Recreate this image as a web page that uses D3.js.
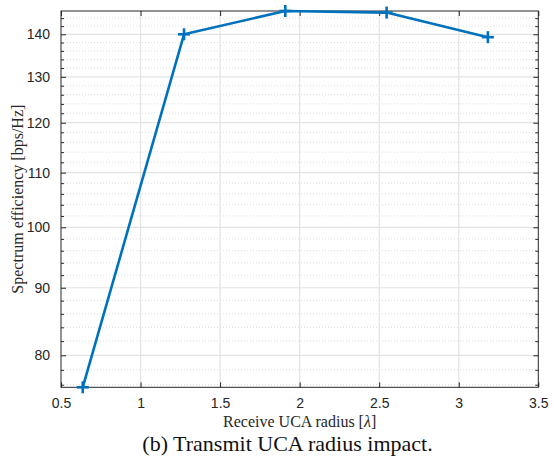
<!DOCTYPE html>
<html>
<head>
<meta charset="utf-8">
<script src="https://cdn.jsdelivr.net/npm/d3@7"></script>
<style>
  html, body { margin: 0; padding: 0; background: #fff; }
  svg { display: block; }
</style>
</head>
<body>
<svg id="chart" width="554" height="457"></svg>
<script>
// ---- data ----
const radius = [0.6366, 1.2732, 1.9099, 2.5465, 3.1831];
const efficiency = [75.66, 140.0, 145.8, 145.4, 139.3];
const xTicks = [0.5, 1, 1.5, 2, 2.5, 3, 3.5];
const xTickLabels = ["0.5", "1", "1.5", "2", "2.5", "3", "3.5"];
const yTicks = [80, 90, 100, 110, 120, 130, 140];
const yTickLabels = ["80", "90", "100", "110", "120", "130", "140"];
const yMinorTicks = [76, 78, 82, 84, 86, 88, 92, 94, 96, 98, 102, 104, 106, 108, 112, 114, 116, 118, 122, 124, 126, 128, 132, 134, 136, 138, 142, 144];

// ---- layout ----
const L = 61, R = 538.3, T = 11, B = 387.3;
const axisColor = "#262626";
const lineColor = "#0072BD";

const svg = d3.select("#chart");

const x = d3.scaleLinear().domain([0.5, 3.5]).range([L, R]);
const y = d3.scaleLog().domain(d3.extent(efficiency)).range([B, T]);

// grid
const grid = svg.append("g");
grid.selectAll(".minor").data(yMinorTicks).join("line")
  .attr("x1", L).attr("x2", R)
  .attr("y1", d => y(d)).attr("y2", d => y(d))
  .attr("stroke", "#d4d4d4").attr("stroke-width", 0.8)
  .attr("stroke-dasharray", "1,2");
grid.selectAll(".ymaj").data(yTicks).join("line")
  .attr("x1", L).attr("x2", R)
  .attr("y1", d => y(d)).attr("y2", d => y(d))
  .attr("stroke", "#e3e3e3").attr("stroke-width", 1.2);
grid.selectAll(".xmaj").data(xTicks.slice(1, -1)).join("line")
  .attr("x1", d => x(d)).attr("x2", d => x(d))
  .attr("y1", T).attr("y2", B)
  .attr("stroke", "#e3e3e3").attr("stroke-width", 1.2);

// axes (ticks inward)
const fmtX = d => xTickLabels[xTicks.indexOf(d)];
const fmtY = d => { const i = yTicks.indexOf(d); return i >= 0 ? yTickLabels[i] : ""; };

function styleAxis(g) {
  g.select(".domain").remove();
  g.selectAll("line").attr("stroke", axisColor).attr("stroke-width", 1);
  g.selectAll("text").attr("fill", axisColor)
    .style("font-family", "'Liberation Sans', Arial, sans-serif")
    .style("font-size", "14px");
}

const xAxisB = svg.append("g").attr("transform", `translate(0,${B})`)
  .call(d3.axisBottom(x).tickValues(xTicks).tickFormat(fmtX).tickSizeInner(-5).tickSizeOuter(0).tickPadding(16));
styleAxis(xAxisB);
xAxisB.selectAll("text").attr("dy", "0.36em");

const xAxisT = svg.append("g").attr("transform", `translate(0,${T})`)
  .call(d3.axisTop(x).tickValues(xTicks).tickFormat("").tickSizeInner(-5).tickSizeOuter(0));
styleAxis(xAxisT);

const yAxisL = svg.append("g").attr("transform", `translate(${L},0)`)
  .call(d3.axisLeft(y).tickValues(yTicks).tickFormat(fmtY).tickSizeInner(-5).tickSizeOuter(0).tickPadding(11));
styleAxis(yAxisL);
const yAxisLm = svg.append("g").attr("transform", `translate(${L},0)`)
  .call(d3.axisLeft(y).tickValues(yMinorTicks).tickFormat("").tickSizeInner(-3).tickSizeOuter(0));
styleAxis(yAxisLm);

const yAxisR = svg.append("g").attr("transform", `translate(${R},0)`)
  .call(d3.axisRight(y).tickValues(yTicks).tickFormat("").tickSizeInner(-5).tickSizeOuter(0));
styleAxis(yAxisR);
const yAxisRm = svg.append("g").attr("transform", `translate(${R},0)`)
  .call(d3.axisRight(y).tickValues(yMinorTicks).tickFormat("").tickSizeInner(-3).tickSizeOuter(0));
styleAxis(yAxisRm);

// box
svg.append("rect").attr("x", L).attr("y", T).attr("width", R - L).attr("height", B - T)
  .attr("fill", "none").attr("stroke", axisColor).attr("stroke-width", 1);

// data line
const pts = radius.map((r, i) => [r, efficiency[i]]);
svg.append("path").datum(pts)
  .attr("d", d3.line().x(d => x(d[0])).y(d => y(d[1])))
  .attr("fill", "none").attr("stroke", lineColor).attr("stroke-width", 2.6)
  .attr("stroke-linejoin", "round");

// plus markers
const m = 6;
const mk = svg.append("g").selectAll("g").data(pts).join("g")
  .attr("transform", d => `translate(${x(d[0])},${y(d[1])})`);
mk.append("line").attr("x1", -m).attr("x2", m).attr("y1", 0).attr("y2", 0)
  .attr("stroke", lineColor).attr("stroke-width", 2.6);
mk.append("line").attr("x1", 0).attr("x2", 0).attr("y1", -m).attr("y2", m)
  .attr("stroke", lineColor).attr("stroke-width", 2.6);

// labels
const serif = "'Liberation Serif', 'Times New Roman', serif";
const xl = svg.append("text").attr("x", (L + R) / 2).attr("y", 427)
  .attr("text-anchor", "middle").attr("fill", axisColor)
  .style("font-family", serif).style("font-size", "16px");
xl.append("tspan").text("Receive UCA radius [");
xl.append("tspan").style("font-style", "italic").text("λ");
xl.append("tspan").text("]");

svg.append("text")
  .attr("transform", `translate(23,${(T + B) / 2}) rotate(-90)`)
  .attr("text-anchor", "middle").attr("fill", axisColor)
  .style("font-family", serif).style("font-size", "16px")
  .text("Spectrum efficiency [bps/Hz]");

svg.append("text").attr("x", 287.5).attr("y", 451)
  .attr("text-anchor", "middle").attr("fill", "#111")
  .style("font-family", serif).style("font-size", "22px")
  .text("(b) Transmit UCA radius impact.");
</script>
</body>
</html>
